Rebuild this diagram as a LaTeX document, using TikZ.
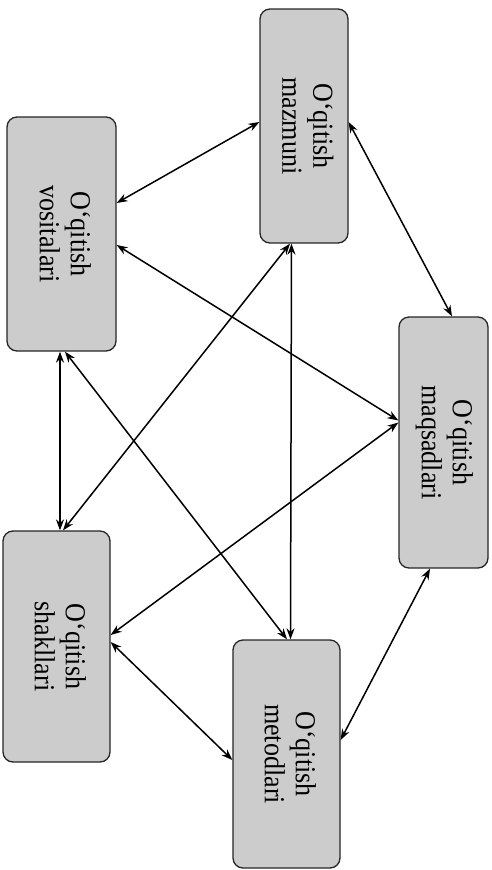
\documentclass[tikz,border=0pt]{standalone}
\usepackage{fontspec}
\setmainfont{Liberation Serif}
\usepackage{graphicx}
\usetikzlibrary{arrows.meta}
\tikzset{
  box/.style={draw=black!85, line width=1.3pt, fill=black!20, rounded corners=10pt, inner sep=0pt},
  link/.style={line width=1.5pt, {Stealth[length=11pt,width=8pt]}-{Stealth[length=11pt,width=8pt]}},
}
\newcommand{\boxtext}[1]{\rotatebox{-90}{\scalebox{0.9}[1]{\fontsize{29}{31}\selectfont\begin{tabular}{@{}c@{}}#1\end{tabular}}}}
\begin{document}
\begin{tikzpicture}[x=1pt,y=-1pt]
\useasboundingbox (0,0) rectangle (492,870);
\node[box, minimum width=88pt, minimum height=234pt] (maz) at (304,126) {\boxtext{O‘qitish\\mazmuni}};
\node[box, minimum width=109pt, minimum height=234pt] (vos) at (61.5,234) {\boxtext{O‘qitish\\vositalari}};
\node[box, minimum width=89pt, minimum height=251pt] (maq) at (443.5,442.5) {\boxtext{O‘qitish\\maqsadlari}};
\node[box, minimum width=107pt, minimum height=231pt] (sha) at (56.5,646.5) {\boxtext{O‘qitish\\shakllari}};
\node[box, minimum width=107pt, minimum height=228pt] (met) at (286.5,754) {\boxtext{O‘qitish\\metodlari}};

\draw[link] ([yshift=31pt]vos.east) -- ([yshift=4pt]maz.west);
\draw[link] ([yshift=4pt]maz.east) -- ([xshift=8.5pt]maq.north);
\draw[link] ([yshift=-11pt]vos.east) -- ([yshift=22pt]maq.west);
\draw[link] ([xshift=-14pt]maz.south) -- ([xshift=6.5pt]sha.north);
\draw[link] ([xshift=-1.5pt]vos.south) -- ([xshift=3.5pt]sha.north);
\draw[link] ([xshift=3.5pt]vos.south) -- ([xshift=0.5pt]met.north);
\draw[link] ([xshift=-12.5pt]maz.south) -- ([xshift=4pt]met.north);
\draw[link] ([yshift=20pt]maq.west) -- ([yshift=11.5pt]sha.east);
\draw[link] ([yshift=4.5pt]sha.east) -- ([yshift=-6pt]met.west);
\draw[link] ([xshift=-13.5pt]maq.south) -- ([yshift=14pt]met.east);
\end{tikzpicture}
\end{document}
